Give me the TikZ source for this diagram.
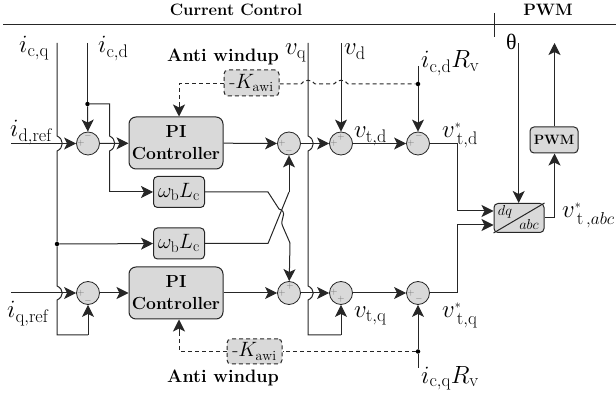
\documentclass[tikz,border=0pt]{standalone}
\usepackage{fontspec}
\usetikzlibrary{arrows.meta}
\newfontfamily\thetafont{Liberation Serif}
\tikzset{
    blockbox/.style={draw=black!85, fill=black!15, line width=1pt, rounded corners=4pt, inner sep=0pt, align=center},
    piblock/.style={blockbox, minimum width=94pt, minimum height=52pt, rounded corners=7pt, font=\fontsize{17.5}{22}\selectfont\bfseries},
    sumnode/.style={circle, draw=black!85, fill=black!15, line width=0.8pt, minimum size=23pt, inner sep=0pt},
    signtxt/.style={inner sep=0pt, text=black!55, font=\fontsize{9}{9}\selectfont},
    wire/.style={line width=1pt, draw=black!85},
    awi/.style={wire, dash pattern=on 4pt off 3pt},
    hopright/.style={to path={.. controls +(7,3) and +(7,-3) .. (\tikztotarget)}},
    hopup/.style={to path={.. controls +(3,-5) and +(-3,-5) .. (\tikztotarget)}},
    biglbl/.style={anchor=base west, inner sep=0pt, font=\fontsize{26}{26}\selectfont},
    boldlbl/.style={inner sep=0pt, font=\fontsize{18}{20}\selectfont\bfseries},
    headlbl/.style={inner sep=0pt, font=\fontsize{16.5}{18}\selectfont\bfseries},
    dotnode/.style={circle, fill=black, inner sep=0pt, minimum size=4.5pt}
}
\begin{document}
\begin{tikzpicture}[x=1pt, y=-1pt, >={Stealth[length=12pt,width=12pt,inset=3pt]}]
    \useasboundingbox (0,0) rectangle (616,395);
    % header
    \coordinate (hl) at (3,25);
    \coordinate (hr) at (616,25);
    \coordinate (tt) at (494,13);
    \coordinate (tb) at (494,37);
    \draw [wire] (hl) -- (hr);
    \draw [wire] (tt) -- (tb);
    \node (hcc) [headlbl] at (236,10) {Current Control};
    \node (hpwm) [headlbl] at (548,10) {PWM};

    % blocks
    \node (pid) [piblock] at (176,143) {PI\\Controller};
    \node (piq) [piblock] at (176,293) {PI\\Controller};
    \node (wld) [blockbox, minimum width=51pt, minimum height=31pt] at (179,192) {};
    \node (wlq) [blockbox, minimum width=51pt, minimum height=31pt] at (179,243.5) {};
    \node (wldt) [inner sep=0pt, font=\fontsize{22}{22}\selectfont] at (wld) {$\omega_{\mathrm{b}}L_{\mathrm{c}}$};
    \node (wlqt) [inner sep=0pt, font=\fontsize{22}{22}\selectfont] at (wlq) {$\omega_{\mathrm{b}}L_{\mathrm{c}}$};
    \node (kd) [blockbox, awi, fill=black!15, minimum width=55pt, minimum height=26pt] at (251.5,83) {\fontsize{20}{20}\selectfont -$K_{\mathrm{awi}}$};
    \node (kq) [blockbox, awi, fill=black!15, minimum width=55pt, minimum height=25pt] at (254.5,351.5) {\fontsize{20}{20}\selectfont -$K_{\mathrm{awi}}$};
    \node (pwmb) [blockbox, minimum width=48pt, minimum height=26pt] at (554,140) {\fontsize{13.5}{14}\selectfont\bfseries PWM};
    \node (dq) [blockbox, minimum width=50pt, minimum height=29pt] at (519,218) {};
    \draw [wire] (dq.south west) -- (dq.north east);
    \node (dqt) [inner sep=0pt, font=\fontsize{14}{14}\selectfont] at (505,212) {$dq$};
    \node (abct) [inner sep=0pt, font=\fontsize{14}{14}\selectfont] at (529,225) {$abc$};

    % summing points
    \node (s1) [sumnode] at (88,143.5) {};
    \node (s2) [sumnode] at (289,143.5) {};
    \node (s3) [sumnode] at (341,143.5) {};
    \node (s4) [sumnode] at (418,143.5) {};
    \node (s5) [sumnode] at (88,293) {};
    \node (s6) [sumnode] at (289,293) {};
    \node (s7) [sumnode] at (341,293) {};
    \node (s8) [sumnode] at (418,293) {};
    \node (s1a) [signtxt] at (81,143.5) {+};
    \node (s1b) [signtxt] at (88,136) {$-$};
    \node (s2a) [signtxt] at (282,143.5) {+};
    \node (s2b) [signtxt] at (289,151) {$-$};
    \node (s3a) [signtxt] at (334,143.5) {+};
    \node (s3b) [signtxt] at (341,137) {+};
    \node (s4a) [signtxt] at (411,143.5) {+};
    \node (s4b) [signtxt] at (419,136) {$-$};
    \node (s5a) [signtxt] at (81,293) {+};
    \node (s5b) [signtxt] at (88,301) {$-$};
    \node (s6a) [signtxt] at (282,293) {+};
    \node (s6b) [signtxt] at (290,286) {+};
    \node (s7a) [signtxt] at (334,292) {+};
    \node (s7b) [signtxt] at (341,299) {+};
    \node (s8a) [signtxt] at (411,293) {+};
    \node (s8b) [signtxt] at (419,299) {$-$};

    % labels
    \node (licq) [biglbl] at (19,53) {$i_{\mathrm{c,q}}$};
    \node (licd) [biglbl] at (98,53) {$i_{\mathrm{c,d}}$};
    \node (lidr) [biglbl] at (10,137) {$i_{\mathrm{d,ref}}$};
    \node (liqr) [biglbl] at (7,318) {$i_{\mathrm{q,ref}}$};
    \node (lvq) [biglbl] at (285,55) {$v_{\mathrm{q}}$};
    \node (lvd) [biglbl] at (344,55) {$v_{\mathrm{d}}$};
    \node (lrd) [biglbl] at (421,68) {$i_{\mathrm{c,d}}R_{\mathrm{v}}$};
    \node (lrq) [biglbl] at (421,383) {$i_{\mathrm{c,q}}R_{\mathrm{v}}$};
    \node (lvtd) [biglbl] at (354,138) {$v_{\mathrm{t,d}}$};
    \node (lvtq) [biglbl] at (354,318) {$v_{\mathrm{t,q}}$};
    \node (lvsd) [biglbl] at (442,138) {$v^{\scriptscriptstyle *}_{\,\mathrm{t,d}}$};
    \node (lvsq) [biglbl] at (442,318) {$v^{\scriptscriptstyle *}_{\,\mathrm{t,q}}$};
    \node (lvabc) [biglbl] at (562,218) {$v^{\scriptscriptstyle *}_{\,\mathrm{t}\,,abc}$};
    \node (lth) [biglbl, font=\fontsize{22}{22}\thetafont] at (506,50) {θ};
    \node (lawd) [boldlbl] at (223,57) {Anti windup};
    \node (lawq) [boldlbl] at (223,378) {Anti windup};

    % i_c,q rail
    \coordinate (a0) at (57,43);
    \coordinate (a1) at (57,136);
    \coordinate (a2) at (57,151);
    \coordinate (a3) at (57,286);
    \coordinate (a4) at (57,300);
    \coordinate (a5) at (57,335);
    \coordinate (a6) at (88,335);
    \node (j1) [dotnode] at (57,244) {};
    \draw [wire] (a0) -- (a1) to[hopright] (a2) -- (j1) -- (a3) to[hopright] (a4) -- (a5) -- (a6);
    \draw [wire, ->] (a6) -- (s5);
    \draw [wire, ->] (j1) -- (wlq);

    % i_c,d rail
    \coordinate (b0) at (87.5,43);
    \coordinate (b1) at (109.5,104);
    \coordinate (b2) at (109.5,136);
    \coordinate (b3) at (109.5,151);
    \coordinate (b4) at (109.5,192);
    \node (j2) [dotnode] at (87.5,104) {};
    \draw [wire] (b0) -- (j2);
    \draw [wire, ->] (j2) -- (s1);
    \draw [wire] (j2) -- (b1) -- (b2) to[hopright] (b3) -- (b4);
    \draw [wire, ->] (b4) -- (wld);

    % forward path, d axis
    \coordinate (c0) at (11,143.5);
    \coordinate (c1) at (457,143.5);
    \coordinate (c2) at (457,211);
    \draw [wire, ->] (c0) -- (s1);
    \draw [wire, ->] (s1) -- (pid);
    \draw [wire, ->] (pid) -- (s2);
    \draw [wire, ->] (s2) -- (s3);
    \draw [wire, ->] (s3) -- (s4);
    \draw [wire] (s4) -- (c1) -- (c2);
    \draw [wire, ->] (c2) -- (dq.west |- c2);

    % forward path, q axis
    \coordinate (d0) at (11,293);
    \coordinate (d1) at (457,293);
    \coordinate (d2) at (457,225);
    \draw [wire, ->] (d0) -- (s5);
    \draw [wire, ->] (s5) -- (piq);
    \draw [wire, ->] (piq) -- (s6);
    \draw [wire, ->] (s6) -- (s7);
    \draw [wire, ->] (s7) -- (s8);
    \draw [wire] (s8) -- (d1) -- (d2);
    \draw [wire, ->] (d2) -- (dq.west |- d2);

    % cross coupling
    \coordinate (e0) at (268,192);
    \coordinate (e1) at (279,209);
    \coordinate (e2) at (283,217);
    \coordinate (e3) at (283,227);
    \coordinate (e4) at (290,243);
    \coordinate (f0) at (268,243.5);
    \coordinate (f1) at (289,192);
    \draw [wire] (wld) -- (e0) -- (e1) .. controls (282,210) and (285,212) .. (e2) .. controls (282,221) and (281,223) .. (e3) -- (e4);
    \draw [wire, ->] (e4) -- (s6);
    \draw [wire] (wlq) -- (f0) -- (f1);
    \draw [wire, ->] (f1) -- (s2);

    % v_q rail
    \coordinate (g0) at (308,43);
    \coordinate (g1) at (308,136);
    \coordinate (g2) at (308,151);
    \coordinate (g3) at (308,286);
    \coordinate (g4) at (308,300);
    \coordinate (g5) at (308,335);
    \coordinate (g6) at (341,335);
    \draw [wire] (g0) -- (g1) to[hopright] (g2) -- (g3) to[hopright] (g4) -- (g5) -- (g6);
    \draw [wire, ->] (g6) -- (s7);

    % v_d and voltage drop feeds
    \coordinate (h0) at (341,43);
    \coordinate (h1) at (418,66);
    \coordinate (h2) at (418,368);
    \draw [wire, ->] (h0) -- (s3);
    \node (j3) [dotnode] at (418,84) {};
    \node (j4) [dotnode] at (418,351.5) {};
    \draw [wire] (h1) -- (j3);
    \draw [wire, ->] (j3) -- (s4);
    \draw [wire] (h2) -- (j4);
    \draw [wire, ->] (j4) -- (s8);

    % anti windup
    \coordinate (k0) at (179,84);
    \coordinate (k1) at (301,84);
    \coordinate (k2) at (315,84);
    \coordinate (k3) at (334,84);
    \coordinate (k4) at (348,84);
    \coordinate (k5) at (179,351.5);
    \coordinate (k6) at (179,104);
    \coordinate (k7) at (179,333);
    \draw [awi] (kd.west |- k0) -- (k0) -- (k6);
    \draw [wire, ->] (k6) -- (pid.north -| k6);
    \draw [awi] (kd.east |- k1) -- (k1) to[hopup] (k2) -- (k3) to[hopup] (k4) -- (j3);
    \draw [awi] (kq) -- (k5) -- (k7);
    \draw [wire, ->] (k7) -- (piq.south -| k7);
    \draw [awi] (j4) -- (kq);

    % PWM side
    \coordinate (m0) at (518.7,43);
    \coordinate (m1) at (554.5,218);
    \coordinate (m2) at (554.5,43);
    \draw [wire, ->] (m0) -- (dq.north -| m0);
    \draw [wire] (dq) -- (m1);
    \draw [wire, ->] (m1) -- (pwmb.south -| m1);
    \draw [wire, ->] (pwmb.north -| m2) -- (m2);
\end{tikzpicture}
\end{document}
